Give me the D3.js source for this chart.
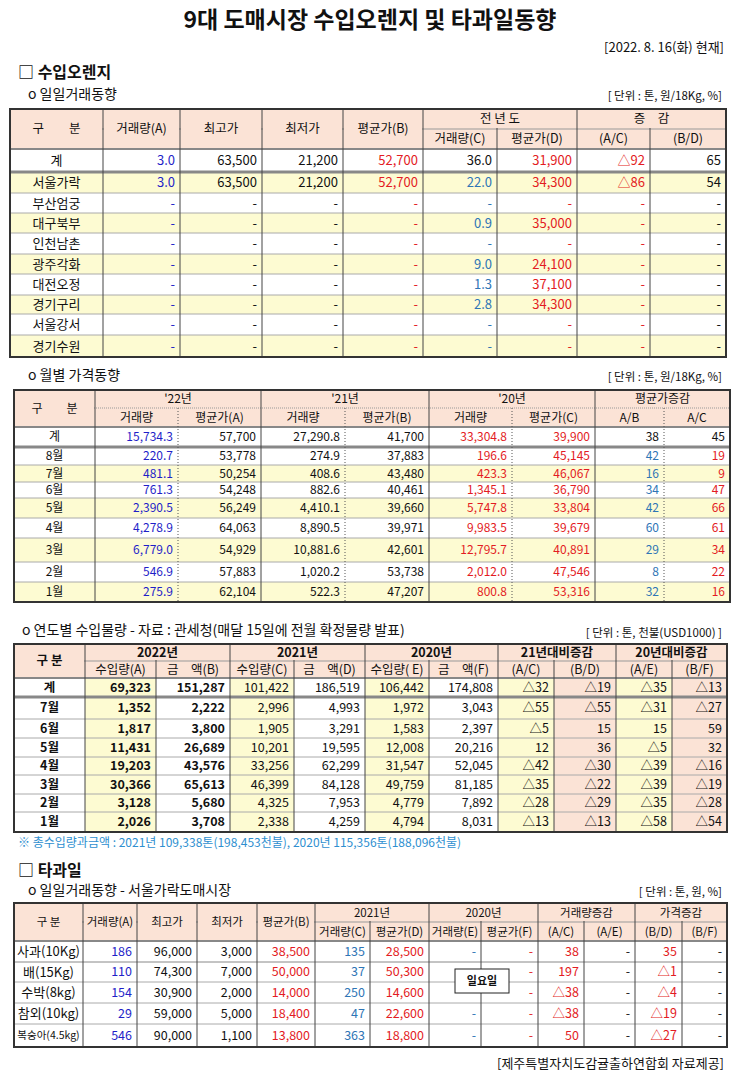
<!DOCTYPE html>
<html><head><meta charset="utf-8">
<script src="https://cdn.jsdelivr.net/npm/d3@7"></script>
<style>body{margin:0;background:#fff}svg{font-family:"Noto Sans CJK KR","Noto Sans",sans-serif}</style>
</head><body><svg id="c" width="740" height="1073"></svg>
<script>
const BLUE = '#1f1fc8', TEAL = '#2e75b6', RED = '#e31b23', BLK = '#111';
const PEACH = '#fbe3d6', YEL = '#fdfbd2';

// table 1: 수입오렌지 일일거래동향
const t1Rows = [
  ['계', '3.0', '63,500', '21,200', '52,700', '36.0', '31,900', '△92', '65'],
  ['서울가락', '3.0', '63,500', '21,200', '52,700', '22.0', '34,300', '△86', '54'],
  ['부산엄궁', '-', '-', '-', '-', '-', '-', '-', '-'],
  ['대구북부', '-', '-', '-', '-', '0.9', '35,000', '-', '-'],
  ['인천남촌', '-', '-', '-', '-', '-', '-', '-', '-'],
  ['광주각화', '-', '-', '-', '-', '9.0', '24,100', '-', '-'],
  ['대전오정', '-', '-', '-', '-', '1.3', '37,100', '-', '-'],
  ['경기구리', '-', '-', '-', '-', '2.8', '34,300', '-', '-'],
  ['서울강서', '-', '-', '-', '-', '-', '-', '-', '-'],
  ['경기수원', '-', '-', '-', '-', '-', '-', '-', '-']
];
const t1Head = [
  ['구　　분', 0, 1, 0, 2], ['거래량(A)', 1, 2, 0, 2], ['최고가', 2, 3, 0, 2], ['최저가', 3, 4, 0, 2],
  ['평균가(B)', 4, 5, 0, 2], ['전 년 도', 5, 7, 0, 1], ['증　감', 7, 9, 0, 1],
  ['거래량(C)', 5, 6, 1, 2], ['평균가(D)', 6, 7, 1, 2], ['(A/C)', 7, 8, 1, 2], ['(B/D)', 8, 9, 1, 2]
];

// table 2: 월별 가격동향
const t2Rows = [
  ['계', '15,734.3', '57,700', '27,290.8', '41,700', '33,304.8', '39,900', '38', '45'],
  ['8월', '220.7', '53,778', '274.9', '37,883', '196.6', '45,145', '42', '19'],
  ['7월', '481.1', '50,254', '408.6', '43,480', '423.3', '46,067', '16', '9'],
  ['6월', '761.3', '54,248', '882.6', '40,461', '1,345.1', '36,790', '34', '47'],
  ['5월', '2,390.5', '56,249', '4,410.1', '39,660', '5,747.8', '33,804', '42', '66'],
  ['4월', '4,278.9', '64,063', '8,890.5', '39,971', '9,983.5', '39,679', '60', '61'],
  ['3월', '6,779.0', '54,929', '10,881.6', '42,601', '12,795.7', '40,891', '29', '34'],
  ['2월', '546.9', '57,883', '1,020.2', '53,738', '2,012.0', '47,546', '8', '22'],
  ['1월', '275.9', '62,104', '522.3', '47,207', '800.8', '53,316', '32', '16']
];
const t2Head = [
  ['구　　분', 0, 1, 0, 2], ["'22년", 1, 3, 0, 1], ["'21년", 3, 5, 0, 1], ["'20년", 5, 7, 0, 1], ['평균가증감', 7, 9, 0, 1],
  ['거래량', 1, 2, 1, 2], ['평균가(A)', 2, 3, 1, 2], ['거래량', 3, 4, 1, 2], ['평균가(B)', 4, 5, 1, 2],
  ['거래량', 5, 6, 1, 2], ['평균가(C)', 6, 7, 1, 2], ['A/B', 7, 8, 1, 2], ['A/C', 8, 9, 1, 2]
];

// table 3: 연도별 수입물량
const t3Rows = [
  ['계', '69,323', '151,287', '101,422', '186,519', '106,442', '174,808', '△32', '△19', '△35', '△13'],
  ['7월', '1,352', '2,222', '2,996', '4,993', '1,972', '3,043', '△55', '△55', '△31', '△27'],
  ['6월', '1,817', '3,800', '1,905', '3,291', '1,583', '2,397', '△5', '15', '15', '59'],
  ['5월', '11,431', '26,689', '10,201', '19,595', '12,008', '20,216', '12', '36', '△5', '32'],
  ['4월', '19,203', '43,576', '33,256', '62,299', '31,547', '52,045', '△42', '△30', '△39', '△16'],
  ['3월', '30,366', '65,613', '46,399', '84,128', '49,759', '81,185', '△35', '△22', '△39', '△19'],
  ['2월', '3,128', '5,680', '4,325', '7,953', '4,779', '7,892', '△28', '△29', '△35', '△28'],
  ['1월', '2,026', '3,708', '2,338', '4,259', '4,794', '8,031', '△13', '△13', '△58', '△54']
];
const t3Head = [
  ['구 분', 0, 1, 0, 2], ['2022년', 1, 3, 0, 1], ['2021년', 3, 5, 0, 1], ['2020년', 5, 7, 0, 1],
  ['21년대비증감', 7, 9, 0, 1], ['20년대비증감', 9, 11, 0, 1],
  ['수입량(A)', 1, 2, 1, 2], ['금　액(B)', 2, 3, 1, 2], ['수입량(C)', 3, 4, 1, 2], ['금　액(D)', 4, 5, 1, 2],
  ['수입량( E)', 5, 6, 1, 2], ['금　액(F)', 6, 7, 1, 2], ['(A/C)', 7, 8, 1, 2], ['(B/D)', 8, 9, 1, 2],
  ['(A/E)', 9, 10, 1, 2], ['(B/F)', 10, 11, 1, 2]
];

// table 4: 타과일 일일거래동향
const t4Rows = [
  ['사과(10Kg)', '186', '96,000', '3,000', '38,500', '135', '28,500', '-', '-', '38', '-', '35', '-'],
  ['배(15Kg)', '110', '74,300', '7,000', '50,000', '37', '50,300', '', '-', '197', '-', '△1', '-'],
  ['수박(8kg)', '154', '30,900', '2,000', '14,000', '250', '14,600', '', '-', '△38', '-', '△4', '-'],
  ['참외(10kg)', '29', '59,000', '5,000', '18,400', '47', '22,600', '-', '-', '△38', '-', '△19', '-'],
  ['복숭아(4.5kg)', '546', '90,000', '1,100', '13,800', '363', '18,800', '-', '-', '50', '-', '△27', '-']
];
const t4Head = [
  ['구 분', 0, 1, 0, 2], ['거래량(A)', 1, 2, 0, 2], ['최고가', 2, 3, 0, 2], ['최저가', 3, 4, 0, 2], ['평균가(B)', 4, 5, 0, 2],
  ['2021년', 5, 7, 0, 1], ['2020년', 7, 9, 0, 1], ['거래량증감', 9, 11, 0, 1], ['가격증감', 11, 13, 0, 1],
  ['거래량(C)', 5, 6, 1, 2], ['평균가(D)', 6, 7, 1, 2], ['거래량(E)', 7, 8, 1, 2], ['평균가(F)', 8, 9, 1, 2],
  ['(A/C)', 9, 10, 1, 2], ['(A/E)', 10, 11, 1, 2], ['(B/D)', 11, 12, 1, 2], ['(B/F)', 12, 13, 1, 2]
];

const svg = d3.select('#c');

const txt = (x, y, s, o = {}) =>
  svg.append('text').attr('x', x).attr('y', y).attr('dy', '0.35em')
    .attr('text-anchor', o.anchor || 'start').attr('font-size', o.size || 13)
    .attr('font-weight', o.bold ? 'bold' : 'normal').attr('fill', o.color || BLK).text(s);

const drawTable = cfg => {
  const { xs, hy, ys, head, rows } = cfg;
  const g = svg.append('g');
  const right = xs[xs.length - 1];
  g.append('rect').attr('x', xs[0]).attr('y', hy[0]).attr('width', right - xs[0])
    .attr('height', hy[2] - hy[0]).attr('fill', PEACH);
  rows.forEach((r, i) => {
    r.forEach((v, j) => {
      const f = cfg.fill(i, j);
      if (f) g.append('rect').attr('x', xs[j]).attr('y', ys[i]).attr('width', xs[j + 1] - xs[j])
        .attr('height', ys[i + 1] - ys[i]).attr('fill', f);
    });
  });
  g.append('line').attr('x1', xs[0]).attr('x2', right).attr('y1', hy[1]).attr('y2', hy[1])
    .attr('stroke', '#999').attr('stroke-dasharray', cfg.hdash ? '1,1' : null);
  ys.slice(1, -1).forEach((y, i) => {
    g.append('line').attr('x1', xs[0]).attr('x2', right).attr('y1', y).attr('y2', y)
      .attr('stroke', i === 0 ? '#888' : '#aaa').attr('stroke-width', i === 0 && cfg.double ? 3 : 1);
  });
  g.append('line').attr('x1', xs[0]).attr('x2', right).attr('y1', hy[2]).attr('y2', hy[2])
    .attr('stroke', '#888').attr('stroke-width', 2);
  xs.slice(1, -1).forEach((x, i) => {
    const dotted = cfg.dotted && cfg.dotted.includes(i + 1);
    g.append('line').attr('x1', x).attr('x2', x).attr('y1', hy[0]).attr('y2', ys[ys.length - 1])
      .attr('stroke', dotted ? '#555' : '#444').attr('stroke-dasharray', dotted ? '1,2' : null);
  });
  head.forEach(([t, c0, c1, r0, r1]) => {
    g.append('rect').attr('x', xs[c0] + 1).attr('y', hy[r0] + 1).attr('width', xs[c1] - xs[c0] - 2)
      .attr('height', hy[r1] - hy[r0] - 2).attr('fill', PEACH);
  });
  head.forEach(([t, c0, c1, r0, r1]) => {
    svg.append('text').attr('x', (xs[c0] + xs[c1]) / 2).attr('y', (hy[r0] + hy[r1]) / 2).attr('dy', '0.35em')
      .attr('text-anchor', 'middle').attr('font-size', cfg.hsize || 12.5)
      .attr('font-weight', cfg.hbold && (r0 === 0) ? 'bold' : 'normal')
      .attr('fill', BLK).text(t);
  });
  rows.forEach((r, i) => {
    const yc = (ys[i] + ys[i + 1]) / 2;
    r.forEach((v, j) => {
      if (j === 0) {
        svg.append('text').attr('x', (xs[0] + xs[1]) / 2).attr('y', yc).attr('dy', '0.35em')
          .attr('text-anchor', 'middle').attr('font-size', cfg.firstSize ? cfg.firstSize(v) : (cfg.size || 13))
          .attr('font-weight', cfg.boldFirst ? 'bold' : 'normal').attr('fill', BLK).text(v);
      } else {
        svg.append('text').attr('x', xs[j + 1] - 5).attr('y', yc).attr('dy', '0.35em')
          .attr('text-anchor', 'end').attr('font-size', cfg.size || 13)
          .attr('font-weight', cfg.bold && cfg.bold(i, j) ? 'bold' : 'normal')
          .attr('fill', cfg.color(i, j)).text(v);
      }
    });
  });
  g.append('rect').attr('x', xs[0]).attr('y', hy[0]).attr('width', right - xs[0])
    .attr('height', ys[ys.length - 1] - hy[0]).attr('fill', 'none').attr('stroke', '#333').attr('stroke-width', 2);
};

txt(370, 20, '9대 도매시장 수입오렌지 및 타과일동향', { anchor: 'middle', size: 23, bold: true });
txt(724, 47, '[2022. 8. 16(화) 현재]', { anchor: 'end', size: 13 });
txt(18, 72, '□ 수입오렌지', { size: 16, bold: true });
txt(28, 94, 'o  일일거래동향', { size: 14 });
txt(722, 96, '[ 단위 : 톤, 원/18Kg, %]', { anchor: 'end', size: 11.5 });

const t1Color = [BLK, BLUE, BLK, BLK, RED, TEAL, RED, RED, BLK];
drawTable({
  xs: [10, 103, 180, 262, 343, 423, 497, 577, 650, 726],
  hy: [109, 129, 149],
  ys: [149, 172, 193, 213, 233, 254, 274, 295, 314, 335, 357],
  head: t1Head, rows: t1Rows, double: true,
  fill: (i, j) => (i > 0 && i % 2 === 1 ? YEL : null),
  color: (i, j) => (i === 0 && j === 5 ? BLK : t1Color[j])
});

txt(28, 375, 'o  월별 가격동향', { size: 14 });
txt(722, 377, '[ 단위 : 톤, 원/18Kg, %]', { anchor: 'end', size: 11.5 });
const t2Color = [BLK, BLUE, BLK, BLK, BLK, RED, RED, TEAL, RED];
drawTable({
  xs: [14, 95, 178, 261, 345, 429, 512, 595, 664, 730],
  hy: [390, 408, 427],
  ys: [427, 447, 465, 482, 498, 518, 538, 562, 582, 602],
  head: t2Head, rows: t2Rows, double: true, hsize: 12, size: 12, hdash: true, dotted: [2, 4, 6, 8],
  fill: (i, j) => (i > 0 && i % 2 === 0 ? YEL : null),
  color: (i, j) => (i === 0 && j > 6 ? BLK : t2Color[j])
});

txt(22, 630, 'o  연도별 수입물량 - 자료 : 관세청(매달 15일에 전월 확정물량 발표)', { size: 14 });
txt(722, 633, '[ 단위 : 톤, 천불(USD1000) ]', { anchor: 'end', size: 11.5 });
const t3Fill = [null, YEL, null, YEL, null, YEL, null, YEL, PEACH, YEL, PEACH];
drawTable({
  xs: [14, 85, 156, 230, 294, 365, 429, 498, 554, 616, 672, 727],
  hy: [644, 661, 678],
  ys: [678, 697, 719, 738, 757, 775, 794, 812, 832],
  head: t3Head, rows: t3Rows, double: true, hsize: 12.5, size: 12.5, hbold: true, boldFirst: true,
  fill: (i, j) => t3Fill[j],
  color: () => BLK,
  bold: (i, j) => j <= 2
});
txt(18, 843, '※ 총수입량과금액 : 2021년 109,338톤(198,453천불),  2020년 115,356톤(188,096천불)', { size: 12, color: '#2e8fd0' });

txt(18, 870, '□ 타과일', { size: 16, bold: true });
txt(28, 890, 'o  일일거래동향 - 서울가락도매시장', { size: 14 });
txt(722, 892, '[ 단위 : 톤, 원, %]', { anchor: 'end', size: 11.5 });
const t4Color = [BLK, BLUE, BLK, BLK, RED, TEAL, RED, TEAL, RED, RED, BLK, RED, BLK];
drawTable({
  xs: [14, 83, 137, 197, 257, 315, 370, 429, 481, 538, 584, 635, 682, 727],
  hy: [903, 922, 941],
  ys: [941, 962, 982, 1003, 1024, 1047],
  head: t4Head, rows: t4Rows, hsize: 11.5, size: 12.5,
  firstSize: v => (v.length > 9 ? 10.5 : 13),
  fill: () => null,
  color: (i, j) => t4Color[j]
});
svg.append('rect').attr('x', 455).attr('y', 969).attr('width', 54).attr('height', 24)
  .attr('fill', '#fff').attr('stroke', '#222');
txt(482, 981, '일요일', { anchor: 'middle', size: 11, bold: true });
txt(724, 1063, '[제주특별자치도감귤출하연합회 자료제공]', { anchor: 'end', size: 13 });
</script></body></html>
